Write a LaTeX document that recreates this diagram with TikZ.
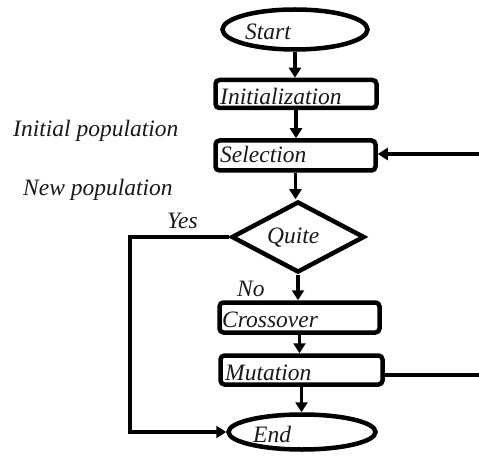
\documentclass[tikz,border=0pt]{standalone}
\usepackage{fontspec}
\setmainfont{Liberation Serif}[ItalicFont={Liberation Serif Italic}]
\usetikzlibrary{shapes.geometric,arrows.meta}
\begin{document}
\begin{tikzpicture}[x=1pt,y=-1pt,
  box/.style={draw,line width=4.5pt,rounded corners=4pt,inner sep=0pt},
  oval/.style={draw,ellipse,line width=4.5pt,inner sep=0pt},
  decision/.style={draw,diamond,line width=4.5pt,inner sep=0pt},
  lbl/.style={anchor=base west,inner sep=0pt,font=\fontsize{23.5}{26}\selectfont\itshape,text=black!90},
  conn/.style={line width=3.5pt},
  arr/.style={conn,-{Triangle[length=10pt,width=12pt]}}]
\useasboundingbox (0,0) rectangle (479,457);
% shapes
\node[oval,minimum width=145pt,minimum height=40pt] (start) at (295,29.5) {};
\node[box,minimum width=161pt,minimum height=28pt] (init) at (296,94) {};
\node[box,minimum width=160pt,minimum height=30pt] (sel) at (295.5,155.5) {};
\node[decision,minimum width=133pt,minimum height=71pt] (dia) at (298,237) {};
\node[box,minimum width=160pt,minimum height=30pt] (cross) at (299.5,317.5) {};
\node[box,minimum width=162pt,minimum height=29pt] (mut) at (301.5,370) {};
\node[oval,minimum width=147pt,minimum height=35pt] (end) at (302,432) {};
% texts
\node[lbl] (tstart) at (245,40) {Start};
\node[lbl] (tinit) at (220,105) {Initialization};
\node[lbl] (tsel) at (220,163) {Selection};
\node[lbl] (tdia) at (267,243) {Quite};
\node[lbl] (tcross) at (222,327) {Crossover};
\node[lbl] (tmut) at (225,380) {Mutation};
\node[lbl] (tend) at (253,442) {End};
\node[lbl] (tip) at (13,137) {Initial population};
\node[lbl] (tnp) at (23,196) {New population};
\node[lbl] (tyes) at (167,228) {Yes};
\node[lbl] (tno) at (237,296) {No};
% connectors
\draw[arr] (start.south) -- (start.south |- init.north);
\draw[arr] (init.south) -- (init.south |- sel.north);
\draw[arr] (sel.south) -- (sel.south |- dia.north);
\draw[arr] (dia.south) -- (dia.south |- cross.north);
\draw[arr] (cross.south) -- (cross.south |- mut.north);
\draw[arr] (mut.south) -- (mut.south |- end.north);
\coordinate (yc) at (130,237);
\draw[arr] (dia.west) -- (yc) |- (end.west);
\coordinate (inR) at (479,154);
\draw[arr] (inR) -- (sel.east |- inR);
\coordinate (outR) at (479,375);
\draw[conn] (mut.east |- outR) -- (outR);
\end{tikzpicture}
\end{document}
